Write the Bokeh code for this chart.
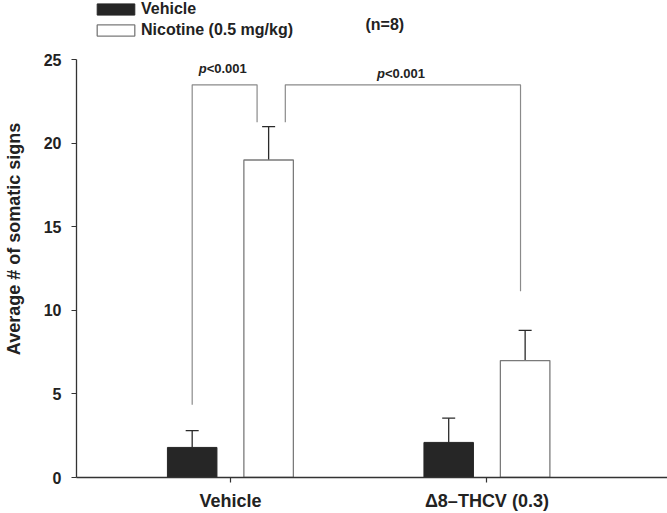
from bokeh.plotting import figure
from bokeh.models import (ColumnDataSource, Range1d, FixedTicker, Whisker, TeeHead,
                          Legend, LegendItem, Label)
from bokeh.core.properties import value
from bokeh.embed import file_html
from bokeh.resources import INLINE

# data
groups = ["Vehicle", "\u03948\u2013THCV (0.3)"]
group_x = [1, 2]
vehicle_means = [1.8, 2.1]
vehicle_sem = [1.0, 1.45]
nicotine_means = [19.0, 7.0]
nicotine_sem = [2.0, 1.8]
yticks = [0, 5, 10, 15, 20, 25]

# significance brackets
bracket_left = [0.851, 1.214]
bracket_right = [1.104, 2.131]
bracket_left_foot = [4.35, 21.26]
bracket_right_foot = [21.26, 11.15]
bracket_top = [23.5, 23.5]
p_text = ["<0.001", "<0.001"]
p_text_y = [24.46, 24.16]

FONT = "Liberation Sans"
offset = 0.149
bar_w = 0.193
W, H = 667, 513
left_border, bottom_border = 69, 36
frame_h = H - bottom_border
px_per_unit = 16.71

veh = ColumnDataSource(dict(
    x=[g - offset for g in group_x],
    top=vehicle_means,
    upper=[m + s for m, s in zip(vehicle_means, vehicle_sem)],
))
nic = ColumnDataSource(dict(
    x=[g + offset for g in group_x],
    top=nicotine_means,
    upper=[m + s for m, s in zip(nicotine_means, nicotine_sem)],
))

p = figure(width=W, height=H, x_range=Range1d(0.4, 2.704),
           y_range=Range1d(0, frame_h / px_per_unit),
           output_backend="svg", toolbar_location=None,
           min_border_left=left_border, min_border_right=0, min_border_top=0,
           min_border_bottom=bottom_border)
p.outline_line_color = None
p.xgrid.visible = False
p.ygrid.visible = False

r_veh = p.vbar(x="x", top="top", width=bar_w, source=veh,
               fill_color="#262626", line_color="#262626", line_width=1)
r_nic = p.vbar(x="x", top="top", width=bar_w, source=nic,
               fill_color="white", line_color="#7a7a7a", line_width=1.3)

for src in (veh, nic):
    p.add_layout(Whisker(source=src, base="x", lower="top", upper="upper",
                         line_color="#2a2a2a", line_width=1.3, lower_head=None,
                         upper_head=TeeHead(size=13, line_color="#2a2a2a", line_width=1.3)))

# brackets
xs = [[l, l, r, r] for l, r in zip(bracket_left, bracket_right)]
ys = [[lf, t, t, rf] for lf, t, rf in zip(bracket_left_foot, bracket_top, bracket_right_foot)]
p.multi_line(xs=xs, ys=ys, line_color="#8a8a8a", line_width=1.2)

mid = [(l + r) / 2 for l, r in zip(bracket_left, bracket_right)]
p.text(x=mid, y=p_text_y, text=["p", "p"], text_align="right", text_baseline="middle",
       x_offset=-18, text_font=value(FONT), text_font_size="13px",
       text_font_style="bold italic", text_color="#222222")
p.text(x=mid, y=p_text_y, text=p_text, text_align="left", text_baseline="middle",
       x_offset=-18, text_font=value(FONT), text_font_size="13px",
       text_font_style="bold", text_color="#222222")

p.add_layout(Label(x=1.602, y=27.11, text="(n=8)", text_align="center", text_baseline="middle",
                   text_font=FONT, text_font_size="16px", text_font_style="bold",
                   text_color="#222222"))

# legend glyphs are drawn with a 10% inset, so the boxes are a bit larger
legend = Legend(items=[LegendItem(label="Vehicle", renderers=[r_veh]),
                       LegendItem(label="Nicotine (0.5 mg/kg)", renderers=[r_nic])],
                location=(16, frame_h - 39), margin=0, padding=0, spacing=3,
                glyph_width=47, glyph_height=14, label_height=16, label_standoff=2,
                label_text_font=FONT, label_text_font_size="16px", label_text_font_style="bold",
                label_text_color="#222222", border_line_alpha=0, background_fill_alpha=0)
p.add_layout(legend)

# axes
p.yaxis.ticker = FixedTicker(ticks=yticks)
p.yaxis.bounds = (0, 25)
p.yaxis.axis_label = "Average # of somatic signs"
p.yaxis.axis_label_standoff = 17
p.yaxis.axis_label_text_font = FONT
p.yaxis.axis_label_text_font_size = "18px"
p.yaxis.axis_label_text_font_style = "bold"
p.yaxis.axis_label_text_color = "#222222"
p.yaxis.major_label_standoff = 10

p.xaxis.ticker = FixedTicker(ticks=group_x)
p.xaxis.major_label_overrides = {g: name for g, name in zip(group_x, groups)}
p.xaxis.major_label_standoff = 8

for ax in (p.xaxis, p.yaxis):
    ax.axis_line_color = "#333333"
    ax.axis_line_width = 1.3
    ax.major_tick_line_color = "#333333"
    ax.major_tick_line_width = 1.2
    ax.major_tick_out = 5
    ax.major_tick_in = 0
    ax.minor_tick_line_color = None
    ax.major_label_text_font = FONT
    ax.major_label_text_font_style = "bold"
    ax.major_label_text_color = "#222222"
p.yaxis.major_label_text_font_size = "16px"
p.xaxis.major_label_text_font_size = "18px"

open("out.html", "w").write(file_html(p, INLINE))
